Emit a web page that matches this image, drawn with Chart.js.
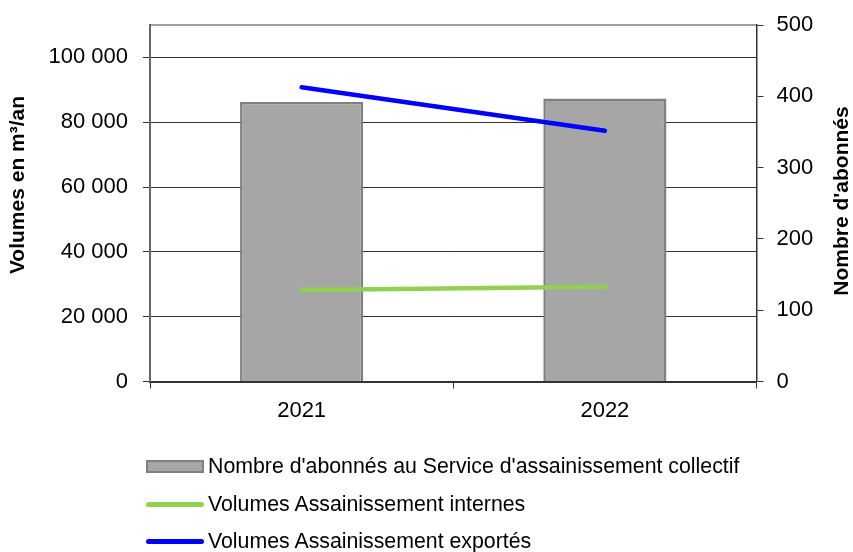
<!DOCTYPE html>
<html>
<head>
<meta charset="utf-8">
<script src="https://cdn.jsdelivr.net/npm/chart.js@4.4.1/dist/chart.umd.min.js"></script>
<style>
  html, body { margin: 0; padding: 0; background: #fff; }
  #wrap { position: relative; width: 853px; height: 552px; }
  #c { position: absolute; left: 0; top: 0; }
  #legend { position: absolute; left: 146px; top: 448px; font-family: "Liberation Sans", Arial, sans-serif; font-size: 21.3px; color: #000; }
  .row { height: 37.5px; display: flex; align-items: center; white-space: nowrap; }
  .sw-bar { width: 54px; height: 9px; background: #a6a6a6; border: 2px solid #808080; margin-right: 4px; }
  .sw-line { width: 58px; height: 5px; border-radius: 3px; margin-right: 4px; }
</style>
</head>
<body>
<div id="wrap">
  <canvas id="c" width="853" height="552"></canvas>
  <div id="legend"></div>
</div>
<script>
const categories = ["2021", "2022"];
const abonnes = [392, 397];
const volumesInternes = [28200, 29250];
const volumesExportes = [90800, 77400];
const leftTicks = [0, 20000, 40000, 60000, 80000, 100000];
const rightTicks = [0, 100, 200, 300, 400, 500];
const leftTitle = "Volumes en m³/an";
const rightTitle = "Nombre d'abonnés";
const seriesNames = [
  "Nombre d'abonnés au Service d'assainissement collectif",
  "Volumes Assainissement internes",
  "Volumes Assainissement exportés"
];

const FONT = '"Liberation Sans", Arial, sans-serif';
const fmt = v => String(v).replace(/\B(?=(\d{3})+(?!\d))/g, ' ');

const titlePlugin = {
  id: 'axisTitles',
  afterDraw(chart) {
    const ctx = chart.ctx;
    ctx.save();
    ctx.font = 'bold 21px ' + FONT;
    ctx.fillStyle = '#000';
    ctx.textAlign = 'center';
    ctx.textBaseline = 'middle';
    ctx.translate(18, 185);
    ctx.rotate(-Math.PI / 2);
    ctx.fillText(leftTitle, 0, 0);
    ctx.restore();
    ctx.save();
    ctx.font = 'bold 21px ' + FONT;
    ctx.fillStyle = '#000';
    ctx.textAlign = 'center';
    ctx.textBaseline = 'middle';
    ctx.translate(842, 201);
    ctx.rotate(-Math.PI / 2);
    ctx.fillText(rightTitle, 0, 0);
    ctx.restore();
  }
};

function fixV(s, w) {
  s.width = w;
  s.paddingTop = 0;
  s.paddingBottom = 0;
}

const chart = new Chart(document.getElementById('c'), {
  data: {
    labels: categories,
    datasets: [
      {
        type: 'line', label: seriesNames[1], data: volumesInternes, yAxisID: 'y',
        borderColor: '#92D050', borderWidth: 4.5, pointRadius: 0, borderCapStyle: 'round', order: 1
      },
      {
        type: 'line', label: seriesNames[2], data: volumesExportes, yAxisID: 'y',
        borderColor: '#0000FF', borderWidth: 4.5, pointRadius: 0, borderCapStyle: 'round', order: 1
      },
      {
        type: 'bar', label: seriesNames[0], data: abonnes, yAxisID: 'y1',
        backgroundColor: '#a6a6a6', borderColor: '#808080', borderWidth: 2.5,
        categoryPercentage: 1, barPercentage: 0.406, order: 2
      }
    ]
  },
  options: {
    responsive: false,
    animation: false,
    devicePixelRatio: 1,
    layout: { padding: { top: 25, left: 0, right: 0, bottom: 0 } },
    plugins: { legend: { display: false }, tooltip: { enabled: false } },
    scales: {
      x: {
        type: 'category',
        offset: true,
        grid: { offset: true, drawOnChartArea: false, drawTicks: true, tickLength: 7, color: '#333', lineWidth: 1 },
        border: { color: '#333', width: 2 },
        ticks: { font: { family: FONT, size: 22 }, color: '#000', padding: 9 },
        afterFit(s) { s.height = 170.5; s.paddingLeft = 0; s.paddingRight = 0; }
      },
      y: {
        position: 'left',
        min: 0, max: 110000,
        afterBuildTicks(s) { s.ticks = leftTicks.concat([110000]).map(v => ({ value: v })); },
        grid: {
          color: c => (c.tick && c.tick.value === 110000) ? '#a0a0a0' : '#333',
          lineWidth: c => (c.tick && c.tick.value === 110000) ? 2 : 1,
          tickColor: c => (c.tick && c.tick.value === 110000) ? 'rgba(0,0,0,0)' : '#333',
          tickLength: 7
        },
        border: { color: '#666', width: 2 },
        ticks: {
          font: { family: FONT, size: 22 }, color: '#000', padding: 15,
          callback: v => v === 110000 ? '' : fmt(v)
        },
        afterFit(s) { fixV(s, 150); }
      },
      y1: {
        position: 'right',
        min: 0, max: 500,
        afterBuildTicks(s) { s.ticks = rightTicks.map(v => ({ value: v })); },
        grid: { drawOnChartArea: false, tickLength: 7, tickColor: '#333' },
        border: { color: '#333', width: 1.5 },
        ticks: { font: { family: FONT, size: 22 }, color: '#000', padding: 13 },
        afterFit(s) { fixV(s, 96.5); }
      }
    }
  },
  plugins: [titlePlugin]
});

// HTML legend built from datasets
const legend = document.getElementById('legend');
const legendOrder = [2, 0, 1];
legendOrder.forEach(i => {
  const ds = chart.data.datasets[i];
  const row = document.createElement('div');
  row.className = 'row';
  const sw = document.createElement('span');
  if (ds.type === 'bar') { sw.className = 'sw-bar'; }
  else { sw.className = 'sw-line'; sw.style.background = ds.borderColor; }
  const t = document.createElement('span');
  t.textContent = ds.label;
  row.appendChild(sw); row.appendChild(t);
  legend.appendChild(row);
});
</script>
</body>
</html>
